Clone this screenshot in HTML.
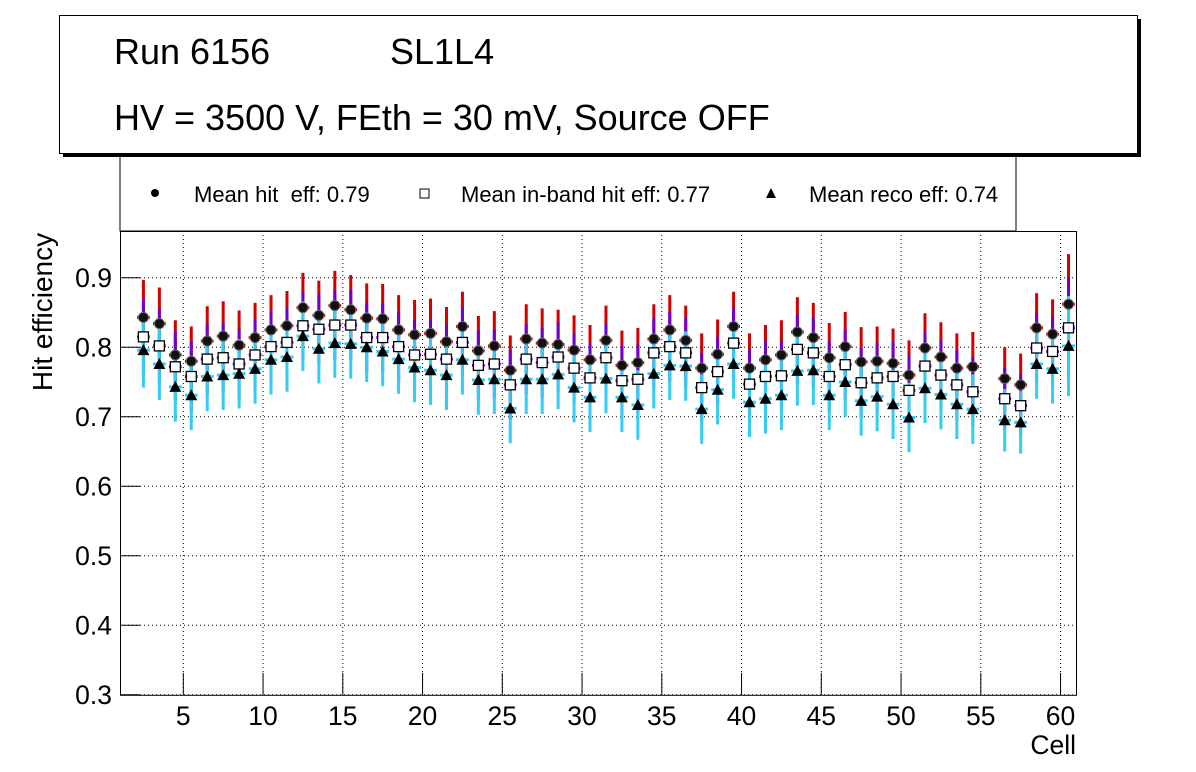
<!DOCTYPE html>
<html><head><meta charset="utf-8"><style>
body{margin:0;background:#fff;}
svg{display:block;font-family:"Liberation Sans",Arial,sans-serif;}
</style></head><body>
<svg id="c" width="1196" height="772" viewBox="0 0 1196 772" xmlns="http://www.w3.org/2000/svg">
<rect x="0" y="0" width="1196" height="772" fill="#fff"/>
<g id="grid"></g>
<g id="axes"></g>
<g id="marks"></g>
<g>
<rect x="120" y="150" width="896" height="81" fill="#fff" stroke="#000" stroke-width="1"/>
<circle cx="155" cy="193" r="4" fill="#000"/>
<text x="194" y="202" font-size="22">Mean hit&#160; eff: 0.79</text>
<rect x="420" y="189" width="9" height="9" fill="#fff" stroke="#000"/>
<text x="461" y="202" font-size="22">Mean in-band hit eff: 0.77</text>
<polygon points="771,188 776,198 766,198" fill="#000"/>
<text x="809" y="202" font-size="22">Mean reco eff: 0.74</text>
</g>
<g>
<rect x="63" y="19" width="1078" height="138" fill="#000"/>
<rect x="59.5" y="15.5" width="1078" height="138" fill="#fff" stroke="#000" stroke-width="1"/>
<text x="114" y="64" font-size="36">Run 6156</text>
<text x="390" y="64" font-size="36">SL1L4</text>
<text x="114" y="130" font-size="36">HV = 3500 V, FEth = 30 mV, Source OFF</text>
</g>
<text transform="translate(52,312) rotate(-90)" text-anchor="middle" font-size="28">Hit efficiency</text>
<text x="1076" y="754" text-anchor="end" font-size="26.5">Cell</text>
</svg>
<script>
const cells=[2.5,3.5,4.5,5.5,6.5,7.5,8.5,9.5,10.5,11.5,12.5,13.5,14.5,15.5,16.5,17.5,18.5,19.5,20.5,21.5,22.5,23.5,24.5,25.5,26.5,27.5,28.5,29.5,30.5,31.5,32.5,33.5,34.5,35.5,36.5,37.5,38.5,39.5,40.5,41.5,42.5,43.5,44.5,45.5,46.5,47.5,48.5,49.5,50.5,51.5,52.5,53.5,54.5,55.5,56.5,57.5,58.5,59.5,60.5];
const hitEff=[0.843,0.834,0.789,0.780,0.809,0.816,0.803,0.814,0.825,0.831,0.857,0.846,0.860,0.854,0.842,0.841,0.825,0.818,0.820,0.808,0.830,0.795,0.802,0.767,0.812,0.806,0.804,0.796,0.782,0.810,0.774,0.778,0.812,0.825,0.810,0.770,0.790,0.830,0.770,0.782,0.789,0.822,0.814,0.785,0.801,0.779,0.780,0.777,0.760,0.799,0.786,0.770,0.772,null,0.755,0.746,0.828,0.819,0.862];
const inbandEff=[0.815,0.802,0.772,0.758,0.783,0.785,0.776,0.789,0.801,0.807,0.831,0.826,0.832,0.832,0.814,0.814,0.801,0.789,0.790,0.783,0.807,0.774,0.776,0.746,0.783,0.778,0.786,0.770,0.756,0.785,0.752,0.754,0.792,0.801,0.792,0.742,0.765,0.806,0.747,0.758,0.759,0.797,0.792,0.758,0.775,0.749,0.756,0.758,0.738,0.773,0.760,0.746,0.736,null,0.726,0.716,0.799,0.794,0.828];
const recoEff=[0.796,0.776,0.743,0.731,0.758,0.760,0.762,0.769,0.782,0.786,0.816,0.798,0.806,0.805,0.800,0.794,0.783,0.771,0.767,0.760,0.782,0.753,0.754,0.712,0.754,0.754,0.761,0.742,0.728,0.755,0.728,0.717,0.762,0.774,0.773,0.711,0.739,0.776,0.721,0.726,0.731,0.766,0.767,0.731,0.750,0.723,0.729,0.718,0.699,0.741,0.732,0.718,0.711,null,0.695,0.692,0.776,0.769,0.802];
const errs=[0.054,0.052,0.05,0.05,0.05,0.05,0.05,0.05,0.05,0.05,0.05,0.05,0.05,0.05,0.05,0.05,0.05,0.05,0.05,0.05,0.05,0.05,0.05,0.05,0.05,0.05,0.05,0.05,0.05,0.05,0.05,0.05,0.05,0.05,0.05,0.05,0.05,0.05,0.05,0.05,0.05,0.05,0.05,0.05,0.05,0.05,0.05,0.05,0.05,0.05,0.05,0.05,0.05,null,0.045,0.045,0.05,0.05,0.072];
const yTicks=[0.3,0.4,0.5,0.6,0.7,0.8,0.9];
const yTickLabels=["0.3","0.4","0.5","0.6","0.7","0.8","0.9"];
const xTicks=[5,10,15,20,25,30,35,40,45,50,55,60];
const xTickLabels=["5","10","15","20","25","30","35","40","45","50","55","60"];

const X0=120,X1=1076,Y0=231,Y1=694.8;
function xs(c){return 183.3+(c-5)*15.95;}
function ys(v){return 347.3-(v-0.8)*695;}
const NS="http://www.w3.org/2000/svg";
function mk(tag,attrs,parent){const e=document.createElementNS(NS,tag);for(const k in attrs)e.setAttribute(k,attrs[k]);parent.appendChild(e);return e;}
const grid=document.getElementById('grid'),axes=document.getElementById('axes'),marks=document.getElementById('marks');

yTicks.forEach((t,i)=>{
  const y=ys(t);
  const g=mk('line',{x1:X0,x2:X1,y1:y,y2:y,stroke:'#000','stroke-width':1,'stroke-dasharray':'1,3'},grid);
  
  
  const tk=mk('line',{x1:X0,x2:X0+20,y1:y,y2:y,stroke:'#000','stroke-width':1},axes);
  
  
  const tx=mk('text',{x:112,y:y+9,'text-anchor':'end','font-size':26.5},axes);
  tx.textContent=yTickLabels[i];
  
  
});
xTicks.forEach((t,i)=>{
  const x=xs(t);
  const g=mk('line',{x1:x,x2:x,y1:Y0,y2:Y1,stroke:'#000','stroke-width':1,'stroke-dasharray':'1,3'},grid);
  
  
  const tk=mk('line',{x1:x,x2:x,y1:Y1-22,y2:Y1,stroke:'#000','stroke-width':1},axes);
  
  
  const tx=mk('text',{x:x,y:725,'text-anchor':'middle','font-size':26.5},axes);
  tx.textContent=xTickLabels[i];
  
  
});
const frame=mk('rect',{x:X0+0.5,y:Y0+0.5,width:X1-X0,height:Y1-Y0,fill:'none',stroke:'#000','stroke-width':1},axes);



const series=[[hitEff,'#d40000'],[inbandEff,'#7000cc'],[recoEff,'#33ccf5']];
const hw=0.4*15.95;
series.forEach(([vals,col])=>{
  cells.forEach((c,i)=>{
    const v=vals[i];if(v===null)return;
    const x=xs(c),e=errs[i];
    const l=mk('line',{x1:x,x2:x,y1:ys(v+e),y2:ys(v-e),stroke:col,'stroke-width':3},marks);
    
    
    const h=mk('line',{x1:x-hw,x2:x+hw,y1:ys(v),y2:ys(v),stroke:col,'stroke-width':3},marks);
    
    
  });
});
cells.forEach((c,i)=>{
  if(hitEff[i]===null)return;
  const x=xs(c);
  const s=mk('rect',{x:x-5,y:ys(inbandEff[i])-5,width:10,height:10,fill:'#fff',stroke:'#000','stroke-width':1.3},marks);
  
  
  const yt=ys(recoEff[i]);
  const t=mk('polygon',{points:`${x},${yt-6} ${x+6},${yt+5} ${x-6},${yt+5}`,fill:'#000'},marks);
  
  
  const ci=mk('circle',{cx:x,cy:ys(hitEff[i]),r:5,fill:'#111',stroke:'#666','stroke-width':1},marks);
  
  
});
</script>
</body></html>
